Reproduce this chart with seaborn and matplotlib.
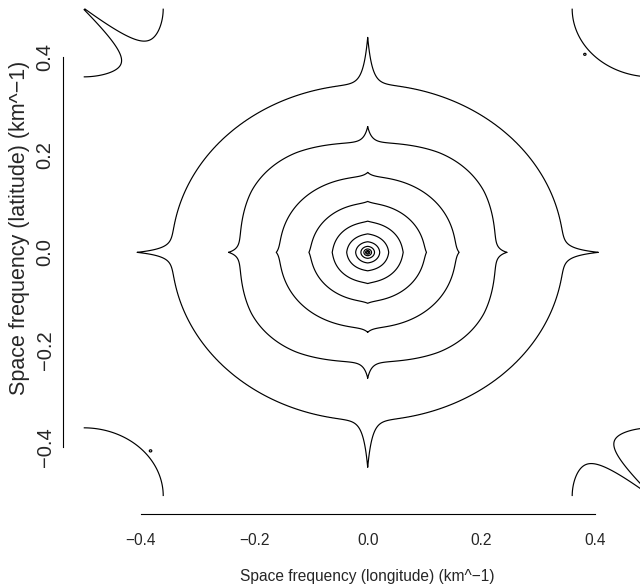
import numpy as np
import matplotlib
matplotlib.use("Agg")
import matplotlib.pyplot as plt
import seaborn as sns
from matplotlib import font_manager as fm

# ---------------- values (km^-1) ----------------
contour_levels = [0, 1, 2, 3, 4, 5, 6, 7, 8, 9, 10, 11]
# radius (on the axes, outside the spikes) of each closed ring and its level
ring_level = [-1, 0, 1, 2, 3, 4, 5, 6, 7, 8, 9, 10, 11, 12.5]
ring_radius = [1.2, 0.72, 0.345, 0.225, 0.155, 0.100, 0.061, 0.036,
               0.0205, 0.0115, 0.0064, 0.0035, 0.0018, 0.0005]
# tips of the cusps along the two axes
tip_level = [1, 2, 3, 4, 5]
tip_u = [0.406, 0.245, 0.161, 0.1035, 0.0625]
tip_v = [0.441, 0.258, 0.164, 0.1045, 0.064]
# squareness of the rings (p-norm exponent) against radius
square_r = [0.0, 0.13, 0.20, 0.24, 0.29, 0.33, 1.0]
square_p = [2.0, 2.0, 2.3, 2.6, 2.3, 2.0, 2.0]
# low corners of the spectrum
corner_radius = 0.14
speck_u = [0.382, -0.382]
speck_v = [0.406, -0.407]

x_ticks = [-0.4, -0.2, 0.0, 0.2, 0.4]
y_ticks = [-0.4, -0.2, 0.0, 0.2, 0.4]
x_title = "Space frequency (longitude) (km^\u22121)"
y_title = "Space frequency (latitude) (km^\u22121)"

# ---------------- field on the frequency grid ----------------
grid = np.linspace(-0.5, 0.5, 1001)
U, V = np.meshgrid(grid, grid)
R = np.hypot(U, V)
P = np.interp(R, square_r, square_p)
rho = (np.abs(U) ** P + np.abs(V) ** P) ** (1.0 / P)

xp = -np.log(np.array(ring_radius))


def level_of(r):
    return np.interp(-np.log(np.maximum(r, 1e-7)), xp, ring_level)


amp_u = [lv - float(level_of(t)) for lv, t in zip(tip_level, tip_u)]
amp_v = [lv - float(level_of(t)) for lv, t in zip(tip_level, tip_v)]
w_spike = 0.009
A_u = np.interp(rho, tip_u[::-1], amp_u[::-1])
A_v = np.interp(rho, tip_v[::-1], amp_v[::-1])
z_ring = level_of(rho) + A_u * np.exp(-np.abs(V) / w_spike) + A_v * np.exp(-np.abs(U) / w_spike)

d_corner = np.hypot(0.5 - np.abs(U), 0.5 - np.abs(V))
z_corner = 8.0 * (d_corner - corner_radius) + 200.0 * np.maximum(d_corner - 0.3, 0) ** 2
z_corner += 1.2 * np.exp(-np.abs(U + V) / np.sqrt(2) / 0.012)
for su, sv in zip(speck_u, speck_v):
    z_corner -= 0.15 * np.exp(-((U - su) ** 2 + (V - sv) ** 2) / (2 * 0.002 ** 2))
Z = np.minimum(z_ring, z_corner)

# ---------------- drawing ----------------
sns.set_style("white")
names = {f.name for f in fm.fontManager.ttflist}
if "Liberation Sans Narrow" in names:
    hfam, hsize = "Liberation Sans Narrow", 13.2
else:
    hfam, hsize = "Liberation Sans", 11.2
vfam, vsize = "Liberation Sans", 14.5
plt.rcParams["font.family"] = ["Liberation Sans", "DejaVu Sans"]

fig = plt.figure(figsize=(6.4, 5.85), dpi=100)
lim = 0.537
ax = fig.add_axes([62.7 / 640, (585 - 514.1) / 585, 610 / 640, 523.5 / 585])
ax.contour(grid, grid, Z, levels=contour_levels, colors="black",
           linewidths=0.85)
ax.set_xlim(-lim, lim)
ax.set_ylim(-lim, lim)

for s in ["top", "right"]:
    ax.spines[s].set_visible(False)
for s in ["left", "bottom"]:
    ax.spines[s].set_bounds(-0.4, 0.4)
    ax.spines[s].set_color("black")
    ax.spines[s].set_linewidth(0.8)

fmt = lambda t: f"{t:.1f}".replace("-", "\u2212")
ax.set_xticks(x_ticks)
ax.set_xticklabels([fmt(t) for t in x_ticks], family=[hfam, "DejaVu Sans"], size=hsize)
ax.set_yticks(y_ticks)
ax.set_yticklabels([fmt(t) for t in y_ticks], family=[vfam, "DejaVu Sans"], size=vsize,
                   rotation=90, va="center")
ax.tick_params(axis="x", direction="out", length=6.7, width=0.8, color="black", pad=7)
ax.tick_params(axis="y", direction="out", length=4.3, width=0.8, color="black", pad=1.5)

ax.set_xlabel(x_title, family=[hfam, "DejaVu Sans"], size=hsize, va="center")
ax.xaxis.set_label_coords(0.5, (514.1 - 576) / 523.5)
ax.set_ylabel(y_title, family=[vfam, "DejaVu Sans"], size=15.5, va="center", ha="center")
ax.yaxis.set_label_coords((19 - 62.7) / 610, (514.1 - 228) / 523.5)

fig.savefig("out.png", dpi=100)
